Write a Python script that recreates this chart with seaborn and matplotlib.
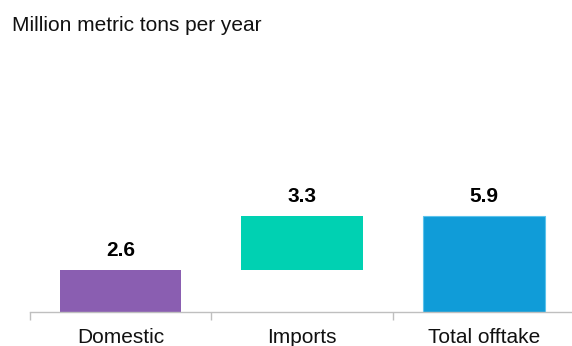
import matplotlib
matplotlib.use("Agg")
import matplotlib.pyplot as plt
import seaborn as sns

# Waterfall of annual supply: domestic output plus imports gives total offtake
categories = ["Domestic", "Imports", "Total offtake"]
values = [2.6, 3.3, 5.9]
bases = [0.0, 2.6, 0.0]
bar_colors = ["#8A5EB1", "#00D1B2", "#109CD8"]
title = "Million metric tons per year"

sns.set_style("white")
plt.rcParams["font.family"] = ["Liberation Sans", "DejaVu Sans"]

W, H = 572, 346
fig = plt.figure(figsize=(W / 100, H / 100), dpi=100)

# axes spans the three category slots; baseline sits 34 px above the bottom edge
left_px, right_px = 29.5, 575.0
base_px, top_px = 312.0, 40.0
ax = fig.add_axes([left_px / W, 1 - base_px / H,
                   (right_px - left_px) / W, (base_px - top_px) / H])

sns.barplot(x=categories, y=values, bottom=bases, width=0.67,
            color=bar_colors[0], saturation=1, linewidth=0, ax=ax)

for patch, col in zip(ax.patches, bar_colors):
    patch.set_facecolor(col)
    patch.set_edgecolor(col)
ax.patches[2].set_edgecolor("#5CC3EC")
ax.patches[2].set_linewidth(0.8)

ax.set_xlim(-0.5, 2.5)
ax.set_ylim(0, (base_px - top_px) / 16.3)

# value labels above each bar
for i, (v, b) in enumerate(zip(values, bases)):
    ax.annotate(f"{v:.1f}", xy=(i, b + v), xytext=(0, 10),
                textcoords="offset points", ha="center", va="baseline",
                fontsize=15, fontweight="bold", color="black",
                annotation_clip=False)

sns.despine(ax=ax, left=True, top=True, right=True)
ax.spines["bottom"].set_color("#BFBFBF")
ax.spines["bottom"].set_linewidth(1.0)
ax.set_yticks([])
ax.set_ylabel("")
ax.set_xlabel("")

# category labels on major ticks, dividing ticks between categories
ax.set_xticks(range(len(categories)))
ax.set_xticklabels(categories, fontsize=15, color="#111111")
ax.tick_params(axis="x", which="major", bottom=True, length=0, pad=11.5)
ax.set_xticks([-0.5, 0.5, 1.5, 2.5], minor=True)
ax.tick_params(axis="x", which="minor", bottom=True, length=6, width=1.0,
               color="#BFBFBF", direction="out")

fig.text(12 / W, 1 - 31 / H, title, fontsize=15, color="#111111",
         ha="left", va="baseline")

fig.savefig("out.png", dpi=100)
